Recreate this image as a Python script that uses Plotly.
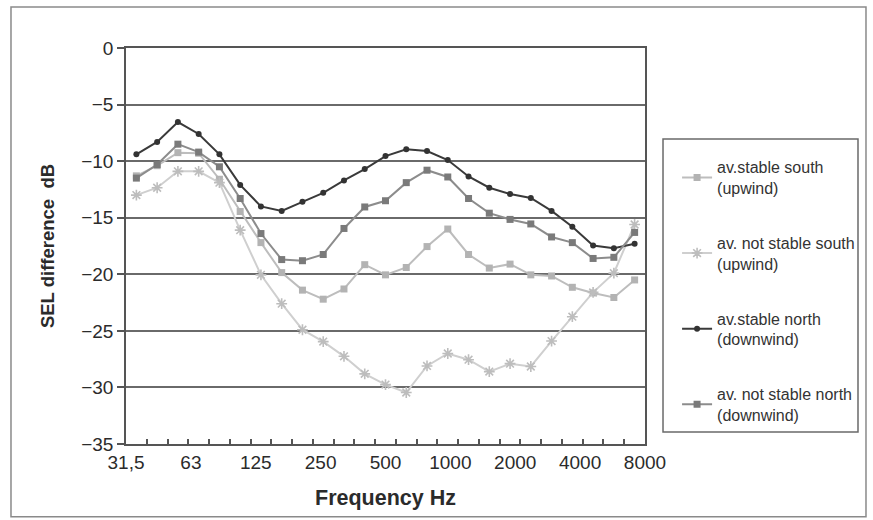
import numpy as np
import plotly.graph_objects as go

# One-third-octave bands, 31.5 Hz .. 8 kHz
bands = ["31,5", "40", "50", "63", "80", "100", "125", "160", "200", "250",
         "315", "400", "500", "630", "800", "1000", "1250", "1600", "2000",
         "2500", "3150", "4000", "5000", "6300", "8000"]
tick_labels = ["31,5", "63", "125", "250", "500", "1000", "2000", "4000", "8000"]

# SEL difference in dB per band
stable_south = [-11.3, -10.4, -9.25, -9.3, -11.6, -14.45, -17.2, -19.85, -21.4, -22.2,
                -21.3, -19.15, -20.05, -19.4, -17.55, -16.0, -18.25, -19.45, -19.1,
                -20.05, -20.15, -21.15, -21.65, -22.05, -20.5]
not_stable_south = [-13.0, -12.35, -10.9, -10.9, -11.9, -16.1, -20.05, -22.6, -24.9, -25.95,
                    -27.25, -28.8, -29.75, -30.45, -28.1, -27.0, -27.55, -28.6, -27.9,
                    -28.15, -25.9, -23.75, -21.6, -19.9, -15.6]
stable_north = [-9.4, -8.3, -6.55, -7.6, -9.4, -12.1, -14.0, -14.4, -13.6, -12.8,
                -11.7, -10.7, -9.55, -8.95, -9.1, -9.9, -11.35, -12.35, -12.9,
                -13.25, -14.4, -15.8, -17.45, -17.7, -17.3]
not_stable_north = [-11.5, -10.3, -8.5, -9.2, -10.5, -13.3, -16.4, -18.7, -18.8, -18.25,
                    -15.95, -14.05, -13.5, -11.9, -10.8, -11.4, -13.3, -14.6, -15.15,
                    -15.55, -16.7, -17.2, -18.6, -18.5, -16.3]

n = len(bands)
x = np.arange(n) + 0.5                      # each band centred in its slot
label_pos = np.linspace(0, n, len(tick_labels))

fig = go.Figure()

series = [
    ("av.stable south<br>(upwind)", stable_south, "#bdbdbd", "#b3b3b3", "square", 7, 0),
    ("av. not stable south<br>(upwind)", not_stable_south, "#cfcfcf", "#bdbdbd", "asterisk", 9, 1.6),
    ("av.stable north<br>(downwind)", stable_north, "#3a3a3a", "#333333", "circle", 6, 0),
    ("av. not stable north<br>(downwind)", not_stable_north, "#8c8c8c", "#7a7a7a", "square", 7, 0),
]
for i, (name, vals, lc, mc, sym, size, lw) in enumerate(series):
    fig.add_trace(go.Scatter(
        x=x, y=vals, mode="lines+markers", name=name, legendgroup=f"g{i}",
        line=dict(color=lc, width=2),
        marker=dict(symbol=sym, size=size, color=mc,
                    line=dict(width=lw, color=mc)),
    ))

axis_font = dict(size=19, color="#2b2b2b")

fig.update_layout(
    width=873, height=520,
    margin=dict(l=126, r=228, t=48, b=76),
    paper_bgcolor="white", plot_bgcolor="white",
    font=dict(family="Liberation Sans, Arial, sans-serif", color="#2b2b2b"),
    xaxis=dict(
        range=[0, n], tickmode="array", tickvals=label_pos, ticktext=tick_labels,
        ticks="", showgrid=False, zeroline=False,
        showline=True, linecolor="#555", linewidth=1.5, mirror=True,
        tickfont=axis_font,
        minor=dict(tickmode="array", tickvals=list(range(1, n)), ticks="inside",
                   ticklen=5, tickwidth=1.5, tickcolor="#555", showgrid=False),
        title=dict(text="<b>Frequency Hz</b>", font=dict(size=21.5), standoff=18),
    ),
    yaxis=dict(
        range=[-35, 0], tickmode="linear", tick0=0, dtick=5,
        showgrid=True, gridcolor="#6a6a6a", gridwidth=1.5, zeroline=False,
        showline=True, linecolor="#555", linewidth=1.5, mirror=True,
        ticks="outside", ticklen=7, tickwidth=1.5, tickcolor="#555",
        tickfont=axis_font,
        title=dict(text="<b>SEL difference  dB</b>", font=dict(size=18.5), standoff=22),
    ),
    legend=dict(
        x=1.0618, y=0.742, xanchor="left", yanchor="top",
        font=dict(size=16, color="#333"), traceorder="grouped",
        tracegroupgap=31, bgcolor="rgba(0,0,0,0)", borderwidth=0,
    ),
    shapes=[
        # outer frame of the figure
        dict(type="rect", xref="paper", yref="paper",
             x0=-0.2216, x1=1.4258, y0=-0.184, y1=1.1035,
             line=dict(color="#8a8a8a", width=1.5)),
        # legend frame
        dict(type="rect", xref="paper", yref="paper",
             x0=1.0347, x1=1.4104, y0=0.0303, y1=0.770,
             line=dict(color="#6a6a6a", width=1.5)),
    ],
)

fig.write_html("out.html")
